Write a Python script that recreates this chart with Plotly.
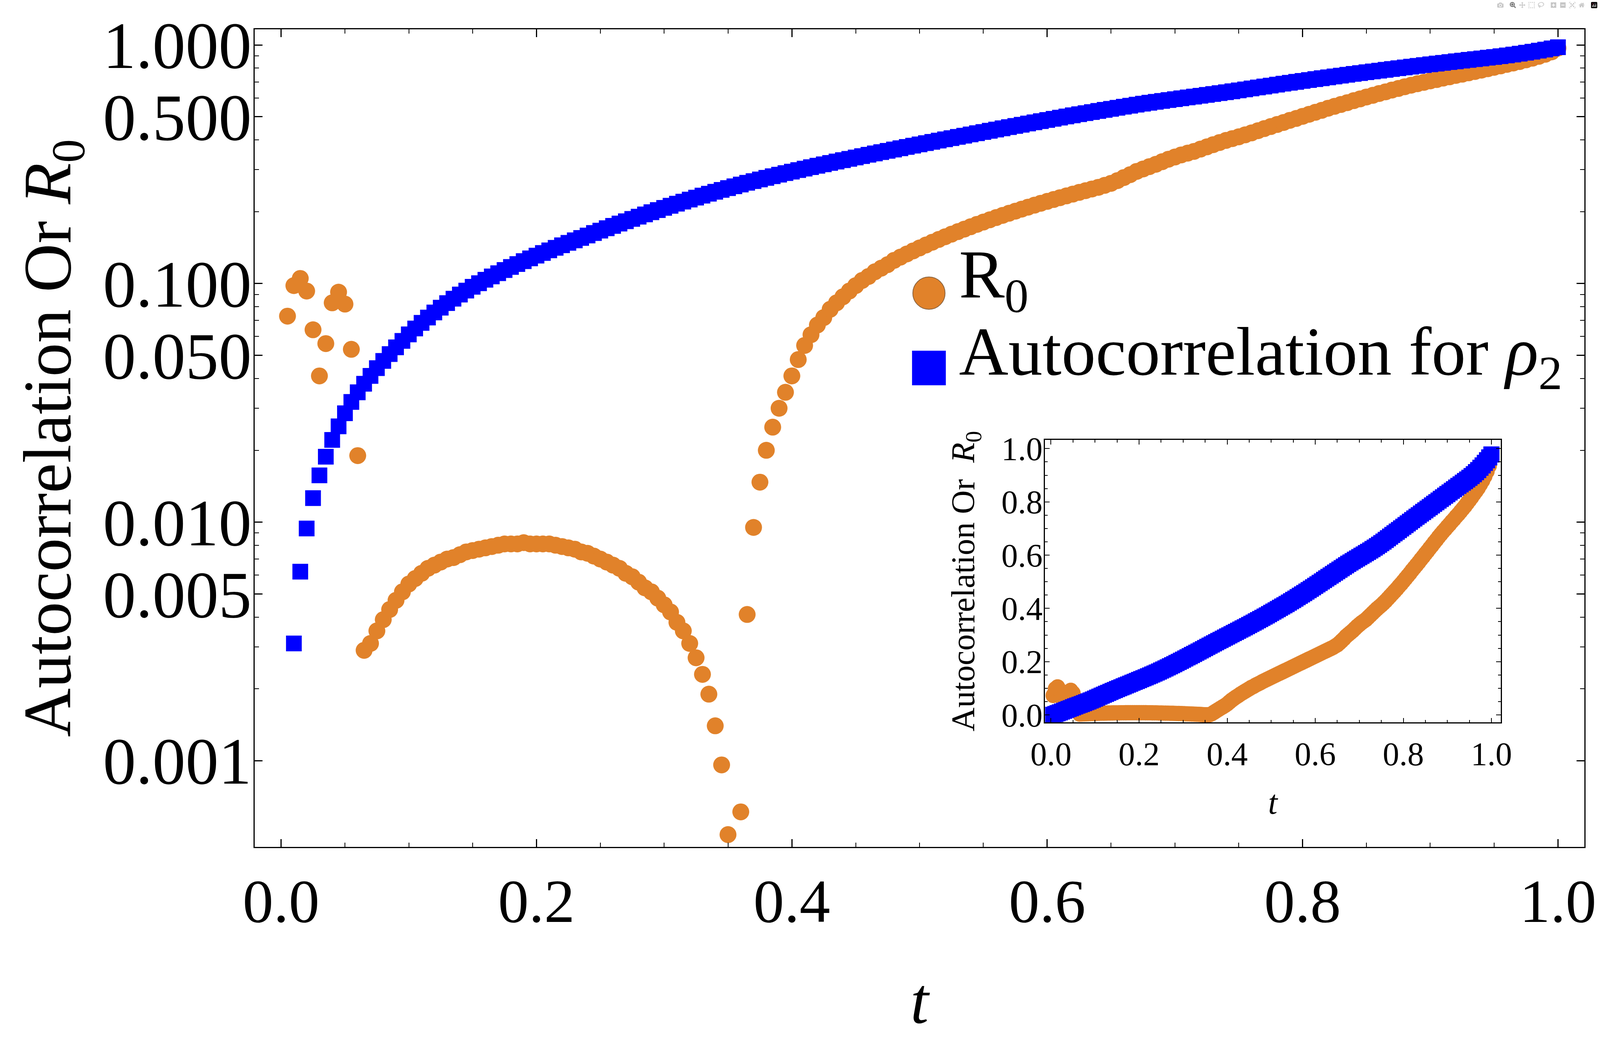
import plotly.graph_objects as go

# sample times (one marker every 0.005)
T = [
    0.005, 0.010, 0.015, 0.020, 0.025, 0.030, 0.035, 0.040, 0.045, 0.050,
    0.055, 0.060, 0.065, 0.070, 0.075, 0.080, 0.085, 0.090, 0.095, 0.100,
    0.105, 0.110, 0.115, 0.120, 0.125, 0.130, 0.135, 0.140, 0.145, 0.150,
    0.155, 0.160, 0.165, 0.170, 0.175, 0.180, 0.185, 0.190, 0.195, 0.200,
    0.205, 0.210, 0.215, 0.220, 0.225, 0.230, 0.235, 0.240, 0.245, 0.250,
    0.255, 0.260, 0.265, 0.270, 0.275, 0.280, 0.285, 0.290, 0.295, 0.300,
    0.305, 0.310, 0.315, 0.320, 0.325, 0.330, 0.335, 0.340, 0.345, 0.350,
    0.355, 0.360, 0.365, 0.370, 0.375, 0.380, 0.385, 0.390, 0.395, 0.400,
    0.405, 0.410, 0.415, 0.420, 0.425, 0.430, 0.435, 0.440, 0.445, 0.450,
    0.455, 0.460, 0.465, 0.470, 0.475, 0.480, 0.485, 0.490, 0.495, 0.500,
    0.505, 0.510, 0.515, 0.520, 0.525, 0.530, 0.535, 0.540, 0.545, 0.550,
    0.555, 0.560, 0.565, 0.570, 0.575, 0.580, 0.585, 0.590, 0.595, 0.600,
    0.605, 0.610, 0.615, 0.620, 0.625, 0.630, 0.635, 0.640, 0.645, 0.650,
    0.655, 0.660, 0.665, 0.670, 0.675, 0.680, 0.685, 0.690, 0.695, 0.700,
    0.705, 0.710, 0.715, 0.720, 0.725, 0.730, 0.735, 0.740, 0.745, 0.750,
    0.755, 0.760, 0.765, 0.770, 0.775, 0.780, 0.785, 0.790, 0.795, 0.800,
    0.805, 0.810, 0.815, 0.820, 0.825, 0.830, 0.835, 0.840, 0.845, 0.850,
    0.855, 0.860, 0.865, 0.870, 0.875, 0.880, 0.885, 0.890, 0.895, 0.900,
    0.905, 0.910, 0.915, 0.920, 0.925, 0.930, 0.935, 0.940, 0.945, 0.950,
    0.955, 0.960, 0.965, 0.970, 0.975, 0.980, 0.985, 0.990, 0.995, 1.000,
]

# R0 (orange circles)
R0 = [
    0.073, 0.098, 0.105, 0.093, 0.064, 0.041, 0.056, 0.083, 0.092, 0.082,
    0.053, 0.019, 0.0029, 0.0031, 0.0035, 0.0039, 0.0043, 0.0047, 0.0051, 0.0055,
    0.0058, 0.0061, 0.0064, 0.0066, 0.0068, 0.0070, 0.0071, 0.0073, 0.0075, 0.0076,
    0.0077, 0.0078, 0.0079, 0.0080, 0.0081, 0.0081, 0.0081, 0.0082, 0.0081, 0.0081,
    0.0081, 0.0081, 0.0080, 0.0079, 0.0078, 0.0077, 0.0075, 0.0074, 0.0072, 0.0070,
    0.0068, 0.0066, 0.0064, 0.0061, 0.0059, 0.0056, 0.0053, 0.0051, 0.0048, 0.0045,
    0.0042, 0.0038, 0.0035, 0.0031, 0.0027, 0.0023, 0.0019, 0.0014, 0.00096, 0.00049,
    0.0003, 0.00061, 0.0041, 0.0095, 0.0147, 0.020, 0.025, 0.030, 0.035, 0.041,
    0.048, 0.055, 0.061, 0.067, 0.072, 0.078, 0.083, 0.088, 0.093, 0.098,
    0.103, 0.107, 0.112, 0.116, 0.120, 0.125, 0.129, 0.133, 0.137, 0.141,
    0.145, 0.149, 0.153, 0.157, 0.161, 0.165, 0.169, 0.173, 0.177, 0.181,
    0.185, 0.189, 0.193, 0.197, 0.201, 0.205, 0.209, 0.213, 0.217, 0.221,
    0.225, 0.229, 0.233, 0.237, 0.241, 0.245, 0.249, 0.253, 0.258, 0.263,
    0.270, 0.278, 0.286, 0.295, 0.302, 0.309, 0.316, 0.324, 0.332, 0.339,
    0.346, 0.352, 0.358, 0.366, 0.374, 0.382, 0.390, 0.398, 0.405, 0.412,
    0.420, 0.428, 0.437, 0.446, 0.455, 0.464, 0.473, 0.483, 0.492, 0.502,
    0.512, 0.522, 0.532, 0.543, 0.553, 0.563, 0.573, 0.584, 0.594, 0.605,
    0.615, 0.626, 0.636, 0.647, 0.657, 0.668, 0.678, 0.688, 0.697, 0.707,
    0.716, 0.726, 0.735, 0.745, 0.754, 0.764, 0.774, 0.784, 0.795, 0.806,
    0.817, 0.829, 0.840, 0.852, 0.866, 0.880, 0.896, 0.914, 0.935, 0.970,
]

# autocorrelation for rho_2 (blue squares)
RHO2 = [
    0.0, 0.0031, 0.0062, 0.0094, 0.0126, 0.0157, 0.0188, 0.0221, 0.0252, 0.0286,
    0.0319, 0.0350, 0.0380, 0.0410, 0.0442, 0.0474, 0.0506, 0.0540, 0.0575, 0.0612,
    0.0648, 0.0684, 0.0720, 0.0756, 0.0792, 0.0828, 0.0864, 0.0899, 0.0934, 0.0969,
    0.1003, 0.1037, 0.1071, 0.1105, 0.1139, 0.1173, 0.1207, 0.1241, 0.1275, 0.1309,
    0.1343, 0.1377, 0.1411, 0.1446, 0.1481, 0.1517, 0.1553, 0.1590, 0.1628, 0.1666,
    0.1705, 0.1744, 0.1784, 0.1824, 0.1865, 0.1906, 0.1948, 0.1990, 0.2032, 0.2075,
    0.2118, 0.2161, 0.2204, 0.2248, 0.2292, 0.2336, 0.2380, 0.2424, 0.2468, 0.2512,
    0.2556, 0.2600, 0.2644, 0.2687, 0.2730, 0.2773, 0.2816, 0.2859, 0.2902, 0.2945,
    0.2988, 0.3031, 0.3074, 0.3117, 0.3160, 0.3203, 0.3246, 0.3289, 0.3332, 0.3375,
    0.3420, 0.3465, 0.3510, 0.3555, 0.3600, 0.3645, 0.3690, 0.3737, 0.3784, 0.3831,
    0.3878, 0.3925, 0.3973, 0.4021, 0.4069, 0.4117, 0.4165, 0.4215, 0.4266, 0.4317,
    0.4368, 0.4420, 0.4472, 0.4524, 0.4577, 0.4630, 0.4684, 0.4738, 0.4792, 0.4847,
    0.4902, 0.4957, 0.5013, 0.5069, 0.5124, 0.5179, 0.5234, 0.5289, 0.5344, 0.5399,
    0.5454, 0.5509, 0.5564, 0.5619, 0.5674, 0.5725, 0.5775, 0.5825, 0.5875, 0.5925,
    0.5975, 0.6025, 0.6075, 0.6125, 0.6175, 0.6228, 0.6281, 0.6336, 0.6392, 0.6450,
    0.6510, 0.6571, 0.6633, 0.6695, 0.6757, 0.6819, 0.6881, 0.6943, 0.7005, 0.7067,
    0.7129, 0.7191, 0.7253, 0.7315, 0.7377, 0.7439, 0.7500, 0.7561, 0.7622, 0.7683,
    0.7744, 0.7805, 0.7866, 0.7927, 0.7988, 0.8049, 0.8110, 0.8171, 0.8232, 0.8293,
    0.8354, 0.8415, 0.8476, 0.8537, 0.8598, 0.8659, 0.8720, 0.8781, 0.8842, 0.8903,
    0.8970, 0.9040, 0.9115, 0.9195, 0.9280, 0.9370, 0.9465, 0.9565, 0.9670, 0.9780,
]

Y_TICKS = [0.001, 0.005, 0.01, 0.05, 0.1, 0.5, 1.0]
Y_TICK_TEXT = ["0.001", "0.005", "0.010", "0.050", "0.100", "0.500", "1.000"]
Y_MINOR = [0.002, 0.003, 0.004, 0.006, 0.007, 0.008, 0.009,
           0.02, 0.03, 0.04, 0.06, 0.07, 0.08, 0.09,
           0.2, 0.3, 0.4, 0.6, 0.7, 0.8, 0.9]

ORANGE = "#E1822A"
BLUE = "#0000FF"
FONT = "Liberation Serif"

# the page comes out slightly magnified in the screenshot, so every pixel
# size below (given in screenshot px) is scaled down by K
K = 0.983


def k(v):
    return v * K


# page and main-frame geometry, screenshot px
W, H = 4166, 2716
L, R, TOP, BOT = 663, 4126, 76, 2205


def px(x):
    return (x - L) / (R - L)


def py(y):
    return (BOT - y) / (BOT - TOP)


def frame_axis(ticklen, width):
    return dict(
        ticks="inside", ticklen=k(ticklen), tickwidth=k(width), tickcolor="black",
        showline=True, linecolor="black", linewidth=k(width + 0.5),
        mirror="allticks", showgrid=False, zeroline=False, automargin=False,
    )


def minor_ticks(ticklen, width, **kw):
    return dict(ticks="inside", ticklen=k(ticklen), tickwidth=k(width),
                tickcolor="black", showgrid=False, **kw)


fig = go.Figure()

# main panel
fig.add_trace(go.Scatter(
    x=T, y=R0, mode="markers", name="R0", showlegend=False,
    marker=dict(symbol="circle", size=k(44), color=ORANGE),
))
fig.add_trace(go.Scatter(
    x=T, y=RHO2, mode="markers", name="rho2", showlegend=False,
    marker=dict(symbol="square", size=k(41), color=BLUE),
))

# inset, linear scale
fig.add_trace(go.Scatter(
    x=T, y=R0, mode="markers", showlegend=False, xaxis="x2", yaxis="y2",
    marker=dict(symbol="circle", size=k(40), color=ORANGE),
))
fig.add_trace(go.Scatter(
    x=T, y=RHO2, mode="markers", showlegend=False, xaxis="x2", yaxis="y2",
    marker=dict(symbol="square", size=k(42), color=BLUE),
))

fig.update_layout(
    width=round(k(W)), height=round(k(H)),
    margin=dict(l=k(L), r=k(W - R), t=k(TOP), b=k(H - BOT), pad=0),
    paper_bgcolor="white", plot_bgcolor="white",
    font=dict(family=FONT, color="black"),
    xaxis=dict(
        **frame_axis(20, 3),
        range=[-0.0207, 1.0207], tick0=0, dtick=0.2, tickformat=".1f",
        minor=minor_ticks(11, 2.5, tick0=0, dtick=0.05),
        tickfont=dict(size=k(160)), ticklabelstandoff=0,
        title=dict(text="<i>t</i>", font=dict(size=k(170)), standoff=k(110)),
    ),
    yaxis=dict(
        **frame_axis(20, 3),
        type="log", range=[-3.3615, 0.0656],
        tickmode="array", tickvals=Y_TICKS, ticktext=Y_TICK_TEXT,
        minor=minor_ticks(11, 2.5, tickmode="array", tickvals=Y_MINOR),
        tickfont=dict(size=k(172)), ticklabelstandoff=round(k(-29)),
        title=dict(text="Autocorrelation Or <i>R</i><sub>0</sub>",
                   font=dict(size=k(176)), standoff=k(25)),
    ),
    xaxis2=dict(
        **frame_axis(12, 2.5),
        domain=[px(2721), px(3908)], anchor="y2",
        range=[-0.0138, 1.021], tick0=0, dtick=0.2, tickformat=".1f",
        minor=minor_ticks(7, 2, tick0=0, dtick=0.05),
        tickfont=dict(size=k(86)), ticklabelstandoff=round(k(5)),
        title=dict(text="<i>t</i>", font=dict(size=k(88)), standoff=k(48)),
    ),
    yaxis2=dict(
        **frame_axis(12, 2.5),
        domain=[py(1881), py(1145)], anchor="x2",
        range=[-0.0286, 1.033], tick0=0, dtick=0.2, tickformat=".1f",
        minor=minor_ticks(7, 2, tick0=0, dtick=0.05),
        tickfont=dict(size=k(86)), ticklabelstandoff=round(k(-14)),
        title=dict(text="Autocorrelation Or  <i>R</i><sub>0</sub>",
                   font=dict(size=k(86)), standoff=k(42)),
    ),
)

# legend drawn by hand so the swatches can be as large as in the original
fig.add_shape(
    type="circle", xref="paper", yref="paper",
    xsizemode="pixel", ysizemode="pixel",
    xanchor=px(2419), yanchor=py(763), x0=k(-42), x1=k(42), y0=k(-42), y1=k(42),
    fillcolor=ORANGE, line=dict(color="#8a6440", width=k(2)),
)
fig.add_shape(
    type="rect", xref="paper", yref="paper",
    xsizemode="pixel", ysizemode="pixel",
    xanchor=px(2419), yanchor=py(958), x0=k(-44), x1=k(44), y0=k(-45), y1=k(45),
    fillcolor=BLUE, line=dict(width=0),
)
fig.add_annotation(
    xref="paper", yref="paper", x=px(2495), y=py(728),
    xanchor="left", yanchor="middle", showarrow=False, height=k(190),
    text="R<sub>0</sub>", font=dict(size=k(178)),
)
fig.add_annotation(
    xref="paper", yref="paper", x=px(2495), y=py(928),
    xanchor="left", yanchor="middle", showarrow=False, height=k(190),
    text="Autocorrelation for <i>ρ</i><sub>2</sub>", font=dict(size=k(178)),
)

fig.write_html(
    "out.html",
    post_script="document.body.style.margin='0';"
                "document.body.style.overflow='hidden';",
)
